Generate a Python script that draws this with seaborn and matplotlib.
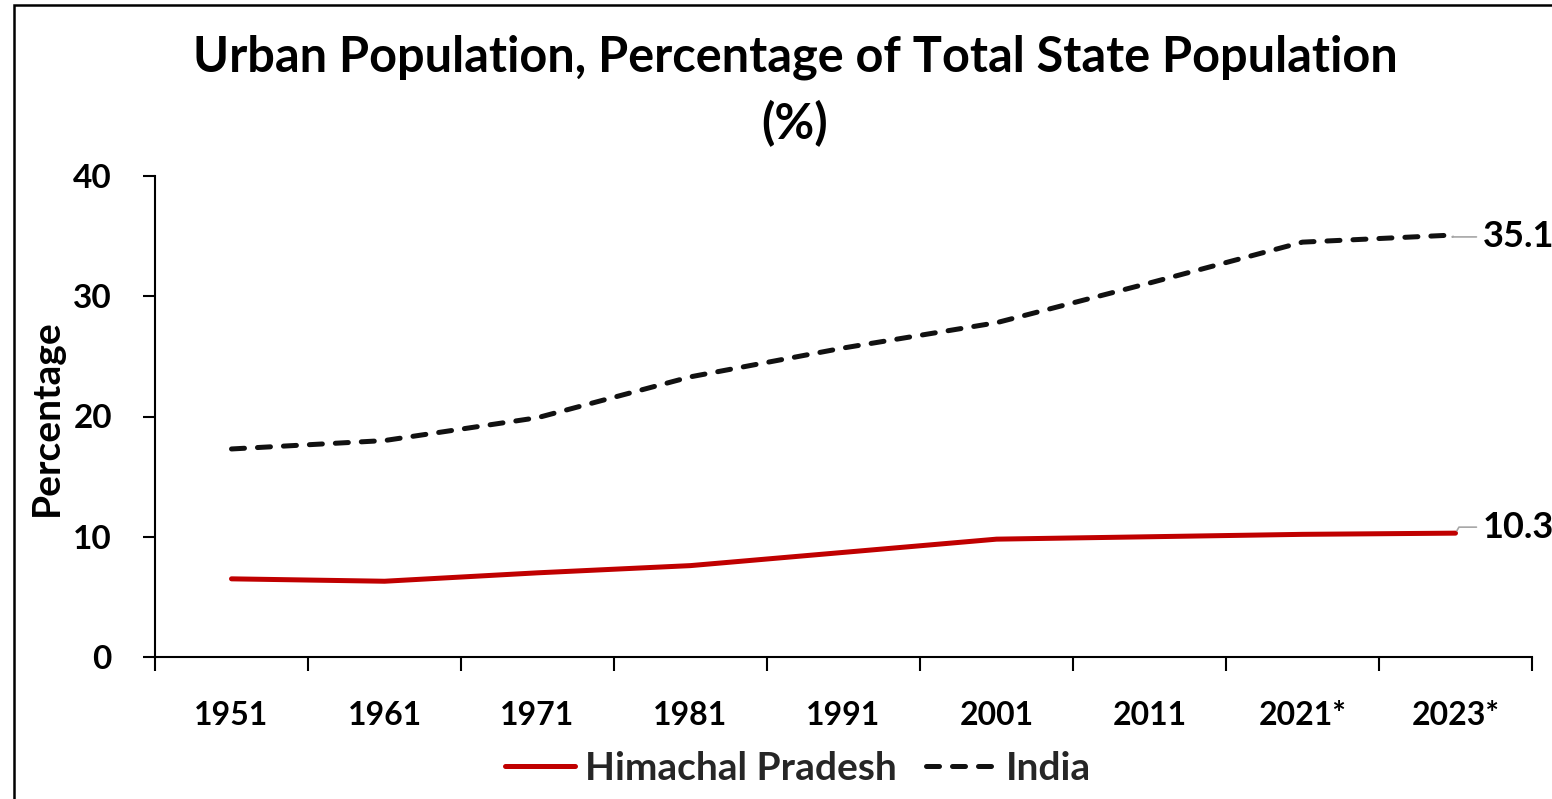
import matplotlib
matplotlib.use("Agg")
import matplotlib.pyplot as plt
import seaborn as sns
import pandas as pd
from matplotlib.patches import Rectangle

years = ["1951", "1961", "1971", "1981", "1991", "2001", "2011", "2021*", "2023*"]
himachal = [6.5, 6.3, 7.0, 7.6, 8.7, 9.8, 10.0, 10.2, 10.3]
india = [17.3, 18.0, 19.9, 23.3, 25.7, 27.8, 31.1, 34.5, 35.1]
series_names = ["Himachal Pradesh", "India"]
end_labels = ["10.3", "35.1"]

df = pd.DataFrame({
    "Year": years * 2,
    "Value": himachal + india,
    "Series": [series_names[0]] * len(years) + [series_names[1]] * len(years),
})

sns.set_theme(style="white")
plt.rcParams["font.family"] = ["Lato", "DejaVu Sans"]
plt.rcParams["font.weight"] = "bold"

W, H = 1552, 799
fig = plt.figure(figsize=(W / 100, H / 100), dpi=100)
ax = fig.add_axes([155 / W, 1 - 657 / H, (1532 - 155) / W, (657 - 176) / H])

palette = {"Himachal Pradesh": "#C00000", "India": "#111111"}
dashes = {"Himachal Pradesh": "", "India": (2.6, 2.6)}
sns.lineplot(data=df, x="Year", y="Value", hue="Series", style="Series",
             palette=palette, dashes=dashes, linewidth=3.6, sort=False, ax=ax)

for ln in ax.lines:
    ln.set_dash_capstyle("round")
    ln.set_solid_capstyle("round")
    ln.set_solid_joinstyle("round")

ax.set_xlim(-0.5, len(years) - 0.5)
ax.set_ylim(0, 40)
ax.set_yticks([0, 10, 20, 30, 40])
ax.set_xticks(range(len(years)))
ax.set_xticklabels(years)
ax.set_xticks([i - 0.5 for i in range(len(years) + 1)], minor=True)
ax.tick_params(axis="x", which="major", length=0, pad=32, labelsize=23)
ax.tick_params(axis="x", which="minor", length=10, width=1.5, color="black", direction="out", bottom=True)
ax.tick_params(axis="y", which="major", length=9, width=1.5, color="black", direction="out", pad=22, labelsize=24, left=True)
for lab in ax.get_xticklabels() + ax.get_yticklabels():
    lab.set_fontweight("bold")
    lab.set_color("black")
ax.set_xlabel("")
ax.set_ylabel("")
for s in ["top", "right"]:
    ax.spines[s].set_visible(False)
for s in ["left", "bottom"]:
    ax.spines[s].set_color("black")
    ax.spines[s].set_linewidth(1.5)
ax.grid(False)

# end labels with leader lines
idx = len(years) - 1
ax.annotate(end_labels[1], xy=(idx, india[-1]), xytext=(27, -2), textcoords="offset pixels",
            ha="left", va="center", fontsize=26, fontweight="bold", color="black",
            arrowprops=dict(arrowstyle="-", color="#A6A6A6", lw=1.2, shrinkA=2, shrinkB=2,
                            connectionstyle="angle,angleA=0,angleB=30,rad=0"))
ax.annotate(end_labels[0], xy=(idx, himachal[-1]), xytext=(27, 6), textcoords="offset pixels",
            ha="left", va="center", fontsize=26, fontweight="bold", color="black",
            arrowprops=dict(arrowstyle="-", color="#A6A6A6", lw=1.2, shrinkA=2, shrinkB=2,
                            connectionstyle="angle,angleA=0,angleB=60,rad=0"))

# legend
sns.move_legend(ax, "center", bbox_to_anchor=(798 / W, 1 - 768 / H), bbox_transform=fig.transFigure,
                ncol=2, frameon=False, title=None, fontsize=28, handlelength=1.8,
                handletextpad=0.26, columnspacing=0.75)
leg = ax.get_legend()
for t in leg.get_texts():
    t.set_fontweight("bold")
for h in leg.get_lines():
    h.set_linewidth(3.6)
    h.set_dash_capstyle("round")
    h.set_solid_capstyle("round")

# title
fig.text(795 / W, 1 - 57 / H, "Urban Population, Percentage of Total State Population",
         ha="center", va="center", fontsize=35, fontweight="bold", color="black")
fig.text(795 / W, 1 - 124 / H, "(%)", ha="center", va="center", fontsize=35,
         fontweight="bold", color="black")

# y label
fig.text(46 / W, 1 - 418 / H, "Percentage", rotation=90, ha="center", va="center",
         fontsize=28, fontweight="bold", color="black")

# outer frame (partially visible)
fig.patches.append(Rectangle((14 / W, -0.05), 1.1, 1 - 5 / H + 0.05, transform=fig.transFigure,
                             fill=False, edgecolor="black", linewidth=1.8, figure=fig))

fig.savefig("out.png", dpi=100)
